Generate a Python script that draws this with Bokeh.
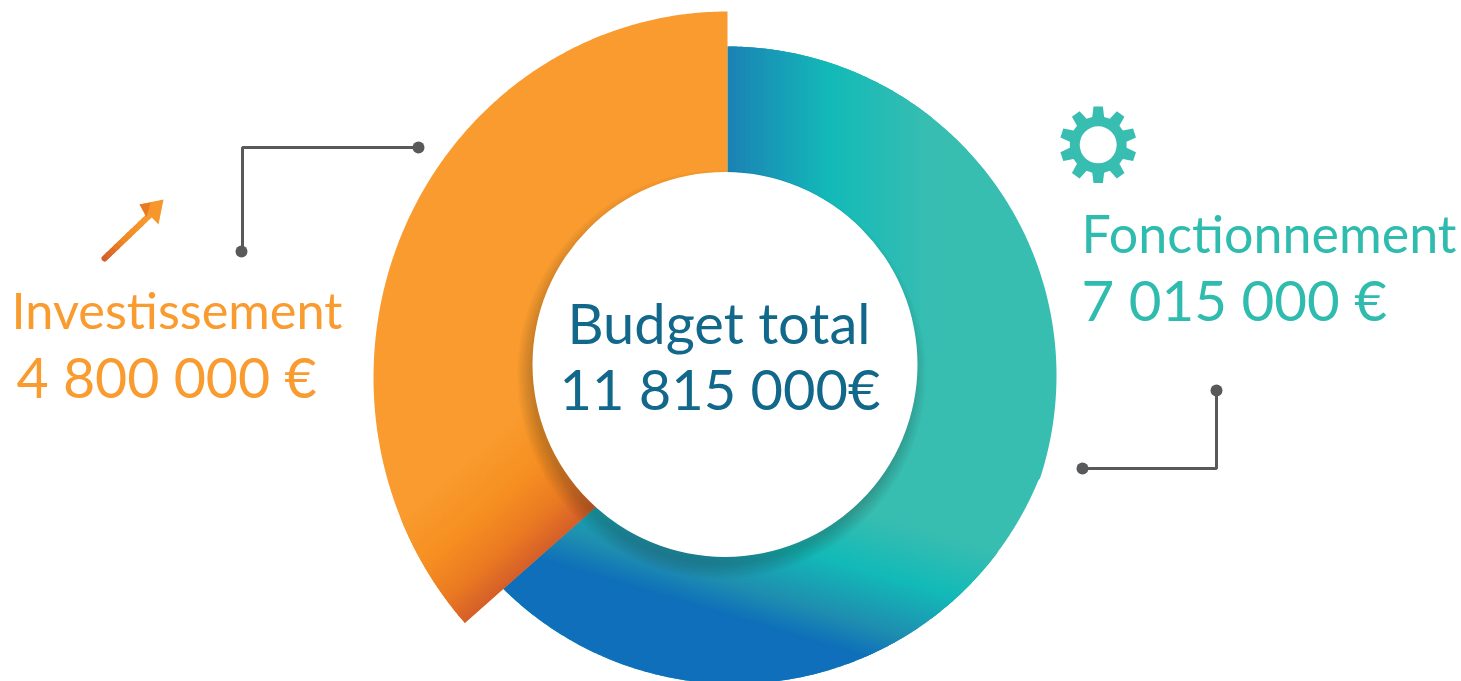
import numpy as np
from bokeh.plotting import figure
from bokeh.models import Range1d
from bokeh.core.properties import value
from bokeh.embed import file_html
from bokeh.resources import INLINE

# ---- chart content ----
categories = ["Fonctionnement", "Investissement"]
amount_labels = ["7 015 000 €", "4 800 000 €"]
slice_degrees = [228.5, 131.5]          # sweep of each slice as drawn
centre_labels = ["Budget total", "11 815 000€"]

TEAL, ORANGE, INK, LEAD = "#38bdb1", "#f99b2e", "#12688a", "#58595b"
TEXT_TEAL = "#2fbcae"

def hex2rgb(h):
    return np.array([int(h[i:i + 2], 16) for i in (1, 3, 5)], float)

def ramp(t, stops):
    xs = [s[0] for s in stops]
    rgb = [hex2rgb(s[1]) for s in stops]
    c = [np.interp(t, xs, [q[k] for q in rgb]) for k in range(3)]
    return "#%02x%02x%02x" % tuple(int(round(v)) for v in c)

def hit(o, th, c, rx, ry):
    """distance along the ray from o at th (clockwise from top, degrees) to an ellipse"""
    u = np.array([np.sin(np.radians(th)), -np.cos(np.radians(th))])
    d = (np.array(o, float) - c) / [rx, ry]
    v = u / [rx, ry]
    a, b, k = v @ v, 2 * d @ v, d @ d - 1
    return (-b + np.sqrt(b * b - 4 * a * k)) / (2 * a)

def pt(o, th, r):
    return (o[0] + r * np.sin(np.radians(th)), o[1] - r * np.cos(np.radians(th)))

def clip(poly, n, c):
    """keep the part of poly where n . q <= c"""
    out = []
    m = len(poly)
    for i in range(m):
        a, b = np.array(poly[i]), np.array(poly[(i + 1) % m])
        fa, fb = n @ a - c, n @ b - c
        if fa <= 0:
            out.append(tuple(a))
        if fa * fb < 0:
            out.append(tuple(a + (b - a) * fa / (fa - fb)))
    return out

def bands(poly, n, edges, colour):
    """strips of poly between successive values of n . q, coloured by the ramp"""
    xs, ys, cols = [], [], []
    n = np.array(n, float)
    for lo, hi in zip(edges[:-1], edges[1:]):
        q = clip(clip(poly, n, hi + 1.0), -n, -lo)
        if len(q) >= 3:
            xs.append([v[0] for v in q]); ys.append([v[1] for v in q])
            cols.append(colour((lo + hi) / 2))
    p.patches(xs, ys, fill_color=cols, line_color=None)

p = figure(width=1461, height=681, output_backend="svg", toolbar_location=None,
           x_range=Range1d(0, 1461), y_range=Range1d(681, 0),
           min_border=0, outline_line_color=None, background_fill_color="white",
           border_fill_color="white", x_axis_location=None, y_axis_location=None)
p.styles = {"position": "fixed", "left": "0px", "top": "0px"}
p.grid.visible = False

# ---- ring of the first slice ----
O = (727.0, 364.0)
UPPER = (np.array([727.0, 375.0]), 329.0, 329.0)
LOWER = (np.array([734.0, 355.0]), 328.5, 328.5)
KINK = 110.3
def outer(th):
    return hit(O, th, *(UPPER if th < KINK else LOWER))

def arc(a, b):
    return [O] + [pt(O, th, outer(th)) for th in np.arange(a, b + .25, .5)]

END = slice_degrees[0] + 3
p.patch(*zip(*arc(0, 180)), fill_color=TEAL, line_color=None)
p.patch(*zip(*arc(175, END)), fill_color=TEAL, line_color=None)

TOP_STOPS = [(727, "#1b81b5"), (830, "#13bab8"), (930, TEAL)]
LOW_STOPS = [(471, TEAL), (528, "#13bab8"), (582, "#1f8eb0"), (615, "#0f6fba"), (1000, "#0f6fba")]
bands(arc(0, 90), (1, 0), list(np.arange(727, 932, 2.0)), lambda v: ramp(v, TOP_STOPS))
# lower gradient runs along y - 0.3 x: the constant keeps the ramp's scale
SHIFT = 0.3 * 727
low_edges = list(np.arange(471, 618, 1.5)) + [1000]
bands(arc(90, 180), (-0.3, 1), [e - SHIFT for e in low_edges],
      lambda v: ramp(v + SHIFT, LOW_STOPS))
bands(arc(175, END), (-0.3, 1), [e - SHIFT for e in low_edges],
      lambda v: ramp(v + SHIFT, LOW_STOPS))

# ---- second slice, drawn over the first ----
Q = (727.0, 390.0)
C2 = (np.array([727.0, 377.0]), 354.0, 366.0)
sweep = slice_degrees[1]
orange_poly = [Q] + [pt(Q, -th, hit(Q, -th, *C2)) for th in np.arange(0, sweep + .25, .5)]
p.patch(*zip(*orange_poly), fill_color=ORANGE, line_color=None)

# distance from the cut edge of the slice
ca = np.radians(sweep)
nrm = np.array([np.cos(ca), -np.sin(ca)])     # unit normal, pointing into the slice
off = nrm @ np.array(Q)
ORANGE_STOPS = [(0, "#d55f2a"), (30, "#ea7a22"), (70, "#f68f22"), (120, ORANGE)]
bands(orange_poly, nrm, [off + e for e in np.arange(-1, 122, 1.5)],
      lambda v: ramp(v - off, ORANGE_STOPS))

# ---- soft shadow, white disc ----
for r in range(190, 206, 2):
    p.ellipse(x=[721], y=[374], width=[2 * r], height=[2 * r], fill_color="#2a1f10",
              fill_alpha=0.03, line_color=None)
p.ellipse(x=[724.5], y=[364], width=[385], height=[385], fill_color="white", line_color=None)

# ---- leaders ----
p.line([418, 242, 242], [147, 147, 251], line_color=LEAD, line_width=3)
p.line([1082, 1216, 1216], [468, 468, 390], line_color=LEAD, line_width=3)
p.ellipse(x=[418, 241, 1082, 1216], y=[147, 251, 468, 390], width=12, height=12,
          fill_color=LEAD, line_color=None)

# ---- arrow ----
n = 12
ax = np.linspace(104, 152, n + 1); ay = np.linspace(258, 212, n + 1)
for i in range(n):
    p.line(ax[i:i + 2], ay[i:i + 2], line_width=6, line_cap="round",
           line_color=ramp(i / (n - 1), [(0, "#d55f2a"), (.45, "#f08a24"), (1, ORANGE)]))
p.patch([163, 139, 158], [199, 204, 224], fill_color="#f7962a", line_color=None)
p.patch([139, 150, 146], [204, 202, 217], fill_color="#ea7a22", line_color=None)

# ---- gear ----
gc = (1097.7, 144.3)
gx, gy = [], []
for k in range(10):
    a0 = k * 36
    for da, r in [(-12, 28.5), (-7, 38.5), (7, 38.5), (12, 28.5)]:
        x, y = pt(gc, a0 + da, r); gx.append(x); gy.append(y)
p.patch(gx, gy, fill_color=TEAL, line_color=None)
p.ellipse(x=[gc[0]], y=[gc[1]], width=[37], height=[37], fill_color="white", line_color=None)

# ---- texts ----
FONT = value("Lato")
DY = 22     # the rendered baseline sits this far below the anchor
def txt(x, y, s, col, size):
    p.text(x=[x], y=[y - DY], text=[s], text_color=col, text_font=FONT,
           text_font_size=f"{size}px", text_baseline="alphabetic", text_align="left")

txt(1081, 254, categories[0], TEXT_TEAL, 52)
txt(1081, 320, amount_labels[0], TEXT_TEAL, 56.5)
txt(11, 331, categories[1], ORANGE, 50.5)
txt(16, 398, amount_labels[1], ORANGE, 55.5)
txt(567, 344, centre_labels[0], INK, 56)
txt(559, 410, centre_labels[1], INK, 56)

open("out.html", "w").write(file_html(p, INLINE))
